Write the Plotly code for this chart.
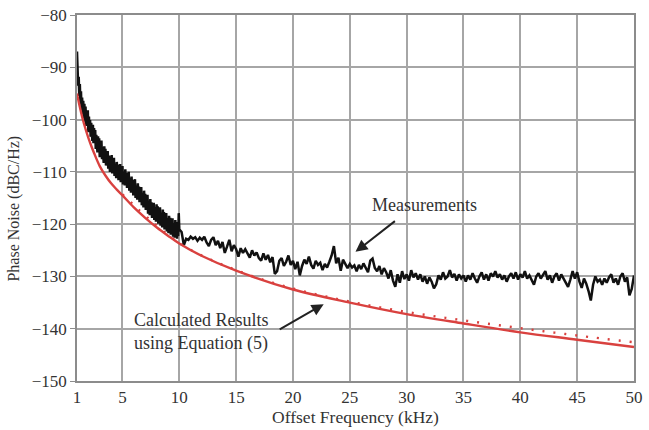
import numpy as np
import plotly.graph_objects as go

# Measured phase noise, dense part 1.0 .. 10.0 kHz (step 0.05)
meas_y1 = [
    -87.0, -89.5, -93.5, -91.8, -95.5, -93.2, -97.0, -94.6, -98.2, -95.8,
    -99.0, -96.4, -99.8, -97.0, -100.4, -97.5, -101.2, -98.6, -100.8, -98.2,
    -102.4, -99.4, -102.0, -100.1, -103.3, -100.6, -102.2, -104.1, -101.0, -104.5,
    -101.6, -103.8, -102.0, -105.6, -102.9, -104.4, -106.3, -103.2, -105.9, -103.6,
    -107.2, -104.5, -106.0, -104.0, -107.6, -105.2, -106.8, -108.3, -105.1, -107.4,
    -105.6, -108.8, -106.3, -107.9, -106.0, -109.4, -106.9, -108.2, -110.0, -107.0,
    -109.1, -106.8, -110.3, -107.9, -109.4, -107.3, -110.8, -108.4, -110.0, -111.2,
    -108.1, -110.4, -108.6, -111.6, -109.0, -110.6, -108.5, -112.0, -109.6, -111.1,
    -108.9, -112.4, -110.0, -111.5, -112.6, -109.5, -111.9, -110.2, -113.1, -110.6,
    -112.2, -110.0, -113.6, -111.2, -112.8, -114.0, -110.9, -113.2, -111.5, -114.5,
    -112.0, -113.6, -111.4, -115.0, -112.6, -114.1, -115.3, -112.2, -114.6, -112.8,
    -115.8, -113.3, -114.9, -112.9, -116.4, -114.0, -115.5, -116.8, -113.6, -116.0,
    -114.2, -117.3, -114.8, -116.4, -114.4, -118.0, -115.5, -117.0, -118.3, -115.2,
    -117.6, -115.8, -118.8, -116.3, -117.9, -115.9, -119.2, -116.8, -118.3, -119.5,
    -116.2, -118.6, -116.6, -119.9, -117.3, -118.9, -116.8, -120.3, -117.8, -119.2,
    -120.6, -117.2, -119.6, -117.7, -121.0, -118.4, -120.0, -117.9, -121.4, -118.9,
    -120.4, -121.7, -118.4, -120.8, -118.8, -122.0, -119.4, -121.1, -118.9, -122.4,
    -119.8, -121.5, -122.6, -119.2, -121.9, -119.6, -122.8, -120.1, -122.3, -117.9,
    -121.0,
]
# Measured phase noise, 10.2 .. 50.0 kHz (step 0.2)
meas_y2 = [
    -121.5, -124.0, -122.8, -123.0, -122.4, -122.8, -122.5, -123.2, -122.6, -123.0,
    -122.4, -123.5, -124.2, -123.0, -122.5, -124.0, -123.2, -124.6, -123.4, -125.5,
    -124.3, -123.0, -125.2, -124.0, -124.8, -126.2, -124.6, -125.5, -124.8, -125.6,
    -126.4, -125.0, -126.0, -125.4, -126.5, -127.0, -125.6, -126.8, -125.9, -127.3,
    -126.3, -129.5, -129.0, -127.0, -126.5, -128.0, -127.2, -126.0, -127.8, -127.0,
    -128.6, -127.2, -129.8, -128.0, -126.8, -127.6, -126.2, -127.8, -128.5, -127.0,
    -127.8, -127.4, -128.8, -127.6, -128.3, -127.2, -126.0, -124.2, -127.5, -126.4,
    -128.9, -126.8, -127.5, -128.4, -127.6, -128.3, -127.9, -129.0, -127.8, -128.6,
    -127.5, -128.5, -129.2, -127.0, -126.6, -128.4, -129.0, -128.0, -129.6, -128.4,
    -129.2, -130.4, -128.8, -130.8, -132.0, -129.6, -131.2, -129.0, -130.5, -129.6,
    -130.8, -128.8, -130.2, -129.4, -130.6, -129.6, -131.0, -130.0, -131.4, -130.2,
    -131.0, -132.3, -131.5, -129.8, -130.6, -129.2, -130.4, -130.0, -128.8, -130.2,
    -129.5, -130.8, -129.6, -130.4, -129.8, -131.0, -129.8, -130.6, -129.4, -130.4,
    -131.2, -130.0, -129.2, -130.6, -129.6, -130.8, -129.4, -130.0, -129.0, -130.2,
    -129.6, -130.6, -129.8, -131.0, -130.0, -129.4, -130.4, -129.2, -130.6, -129.6,
    -130.2, -129.0, -130.4, -129.8, -130.8, -131.6, -130.0, -129.4, -130.4, -129.6,
    -129.0, -130.6, -129.8, -131.2, -130.0, -129.4, -130.8, -129.6, -130.4, -131.4,
    -132.0, -130.6, -129.0, -130.4, -129.2, -131.0, -132.2, -130.4, -131.4, -132.8,
    -134.6, -131.6, -130.0, -131.0, -130.6, -131.6, -130.4, -131.2, -130.2, -129.6,
    -131.2, -130.4, -131.6, -130.0, -129.4, -131.0, -130.2, -133.6, -132.4, -129.8,
]
meas_x1 = np.linspace(1.0, 10.0, len(meas_y1))
meas_x2 = np.linspace(10.2, 50.0, len(meas_y2))
meas_x = list(meas_x1) + list(meas_x2)
meas_y = meas_y1 + meas_y2

# Calculated results (Equation 5), solid
calc_x = [1, 1.25, 1.5, 1.75, 2, 2.25, 2.5, 3, 3.5, 4, 4.5, 5, 6, 7, 8, 9, 10, 12, 15,
          20, 25, 30, 35, 40, 45, 50]
calc_y = [-95.0, -97.6, -99.9, -101.8, -103.5, -105.0, -106.4, -108.9, -110.7, -112.2,
          -113.4, -114.5, -116.8, -118.8, -120.6, -122.2, -123.7, -126.1, -128.9,
          -132.5, -135.0, -137.2, -139.0, -140.7, -142.1, -143.5]
# Calculated results, dotted companion
dot_x = [5, 10, 15, 20, 25, 30, 35, 40, 45, 50]
dot_y = [-114.3, -123.6, -128.8, -132.3, -134.8, -136.8, -138.4, -139.9, -141.3, -142.6]

x_ticks = [1, 5, 10, 15, 20, 25, 30, 35, 40, 45, 50]
y_ticks = [-150, -140, -130, -120, -110, -100, -90, -80]

FONT = "Liberation Serif"
TXT = "#333333"
fig = go.Figure()
fig.add_trace(go.Scatter(x=dot_x, y=dot_y, mode="lines", line_shape="spline",
                         line=dict(color="#d9413f", width=2.4, dash="2px,9px"),
                         showlegend=False, hoverinfo="skip"))
fig.add_trace(go.Scatter(x=meas_x, y=meas_y, mode="lines",
                         line=dict(color="#111111", width=2.5),
                         showlegend=False))
fig.add_trace(go.Scatter(x=calc_x, y=calc_y, mode="lines", line_shape="spline",
                         line=dict(color="#d9413f", width=2.4),
                         showlegend=False))

fig.add_annotation(x=25.5, y=-125.3, ax=29.1, ay=-119.2, xref="x", yref="y",
                   axref="x", ayref="y", showarrow=True, arrowhead=2, arrowsize=1.2,
                   arrowwidth=2, arrowcolor="#222222", text="")
fig.add_annotation(x=31.6, y=-116.4, xref="x", yref="y", text="Measurements",
                   showarrow=False, font=dict(family=FONT, size=18, color=TXT))
fig.add_annotation(x=22.7, y=-135.3, ax=18.7, ay=-140.3, xref="x", yref="y",
                   axref="x", ayref="y", showarrow=True, arrowhead=2, arrowsize=1.2,
                   arrowwidth=2, arrowcolor="#222222", text="")
fig.add_annotation(x=5.8, y=-140.7, xref="x", yref="y", xanchor="left",
                   text="Calculated Results<br>using Equation (5)", align="left",
                   showarrow=False, font=dict(family=FONT, size=18, color=TXT))
fig.add_annotation(x=-0.1125, y=0.472, xref="paper", yref="paper", textangle=-90,
                   xanchor="center", yanchor="middle",
                   text="Phase Noise (dBC/Hz)", showarrow=False,
                   font=dict(family=FONT, size=16, color=TXT))

fig.update_layout(
    width=649, height=430,
    margin=dict(l=77, r=6, t=10, b=49),
    paper_bgcolor="white", plot_bgcolor="white",
    font=dict(family=FONT, size=17, color=TXT),
    xaxis=dict(range=[1, 50], tickvals=x_ticks, ticktext=[str(v) for v in x_ticks],
               showgrid=True, gridcolor="#a6a6a6", gridwidth=1.5, zeroline=False,
               showline=True, linecolor="#8c8c8c", linewidth=1.5, mirror=True,
               ticks="", tickfont=dict(size=17), ticklabeloverflow="allow",
               title=dict(text="Offset Frequency (kHz)", standoff=2,
                          font=dict(family=FONT, size=17.5))),
    yaxis=dict(range=[-150, -80], tickvals=y_ticks,
               showgrid=True, gridcolor="#a6a6a6", gridwidth=1.5, zeroline=False,
               showline=True, linecolor="#8c8c8c", linewidth=1.5, mirror=True,
               ticks="outside", ticklen=5, tickcolor="#8c8c8c", tickfont=dict(size=17)),
)
fig.write_html("out.html")
